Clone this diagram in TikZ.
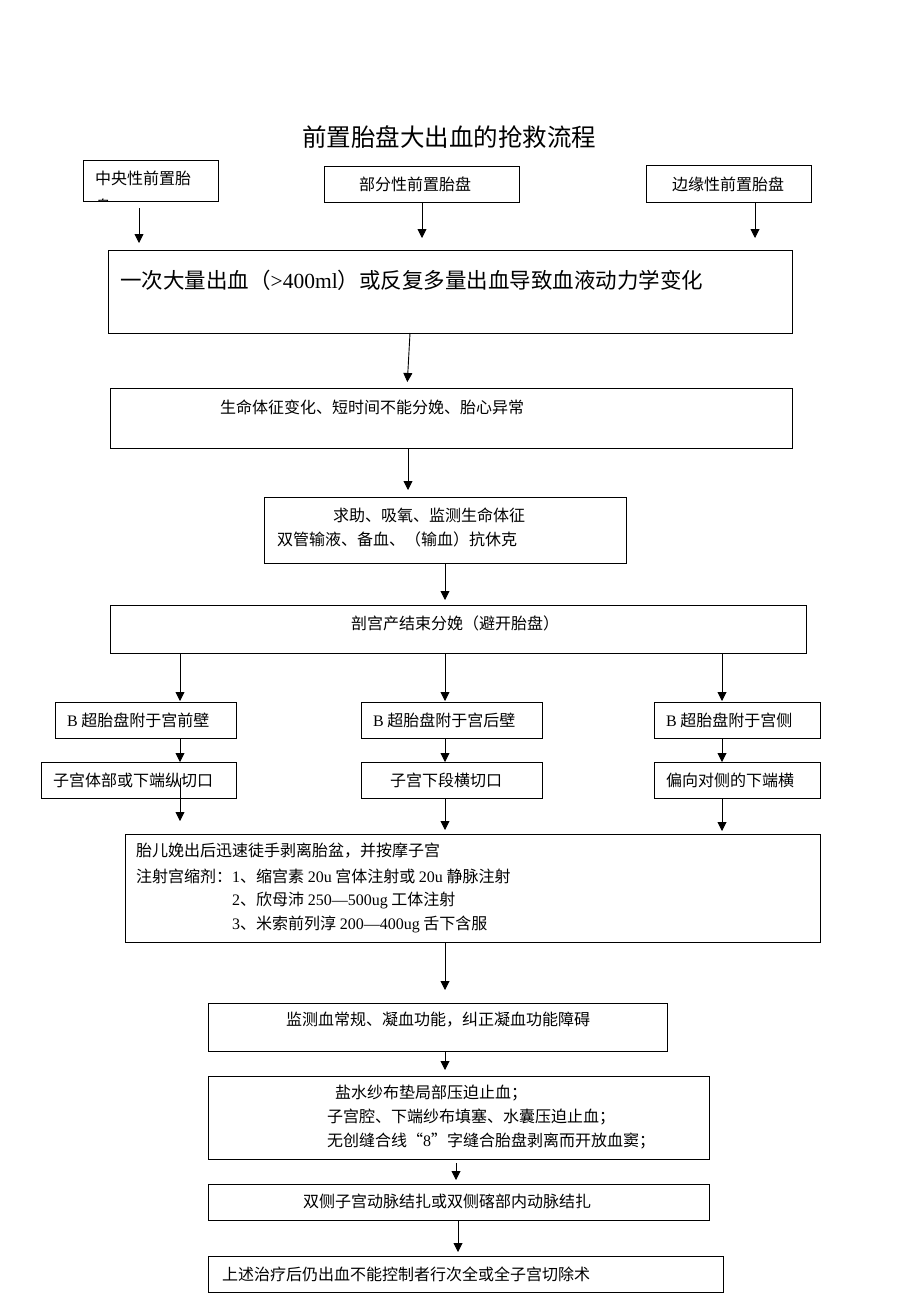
\documentclass[tikz,border=0pt]{standalone}
\usepackage{fontspec}
\setmainfont{Liberation Serif}
\newfontfamily\cjk{Noto Sans CJK SC}
\usetikzlibrary{arrows.meta}
\newcommand\lat[1]{{\rmfamily #1}}
\newcommand\bx[5]{\node[box, minimum width={(#4-#2)*1pt}, minimum height={(#5-#3)*1pt}] (#1) at ({(#2+#4)/2},{(#3+#5)/2}) {};}
\tikzset{
  box/.style={draw, line width=0.9pt, inner sep=0pt, outer sep=0pt},
  txt/.style={font=\cjk\fontsize{16}{20}\selectfont, inner sep=0pt, anchor=west},
  arr/.style={-{Triangle[length=9pt,width=9pt]}, line width=0.9pt},
}
\begin{document}
\begin{tikzpicture}[x=1pt,y=-1pt]
\useasboundingbox[fill=white] (0,0) rectangle (920,1302);

% title
\node[font=\cjk\fontsize{24.5}{28}\selectfont, inner sep=0pt] (title) at (449,137) {前置胎盘大出血的抢救流程};

% boxes
\bx{b1}{83}{160}{218}{201}
\bx{b2}{324}{166}{519}{202}
\bx{b3}{646}{165}{811}{202}
\bx{b4}{108}{250}{792}{333}
\bx{b5}{110}{388}{792}{448}
\bx{b6}{264}{497}{626}{563}
\bx{b7}{110}{605}{806}{653}
\bx{b8a}{55}{702}{236}{738}
\bx{b8b}{361}{702}{542}{738}
\bx{b8c}{654}{702}{820}{738}
\bx{b9a}{41}{762}{236}{798}
\bx{b9b}{361}{762}{542}{798}
\bx{b9c}{654}{762}{820}{798}
\bx{b10}{125}{834}{820}{942}
\bx{b11}{208}{1003}{667}{1051}
\bx{b12}{208}{1076}{709}{1159}
\bx{b13}{208}{1184}{709}{1220}
\bx{b14}{208}{1256}{723}{1292}

% texts
\node[txt] (t1) at (95,178) {中央性前置胎};
\begin{scope}
  \clip (83,160) rectangle (218,201);
  \node[txt] (t1b) at (95,206) {盘};
\end{scope}
\node[txt] (t2) at (359,184) {部分性前置胎盘};
\node[txt] (t3) at (672,184) {边缘性前置胎盘};
\node[txt, font=\cjk\fontsize{21.5}{26}\selectfont] (t4) at (120,280) {一次大量出血（\lat{>400ml}）或反复多量出血导致血液动力学变化};
\node[txt] (t5) at (220,407) {生命体征变化、短时间不能分娩、胎心异常};
\node[txt] (t6a) at (333,515) {求助、吸氧、监测生命体征};
\node[txt] (t6b) at (277,539) {双管输液、备血、（输血）抗休克};
\node[txt] (t7) at (351,623) {剖宫产结束分娩（避开胎盘）};
\node[txt] (t8a) at (67,720) {\lat{B} 超胎盘附于宫前壁};
\node[txt] (t8b) at (373,720) {\lat{B} 超胎盘附于宫后壁};
\node[txt] (t8c) at (666,720) {\lat{B} 超胎盘附于宫侧};
\node[txt] (t9a) at (53,780) {子宫体部或下端纵切口};
\node[txt] (t9b) at (390,780) {子宫下段横切口};
\node[txt] (t9c) at (666,780) {偏向对侧的下端横};
\node[txt] (t10a) at (136,851) {胎儿娩出后迅速徒手剥离胎盆，并按摩子宫};
\node[txt] (t10b) at (136,876) {注射宫缩剂：\lat{1}、缩宫素 \lat{20u} 宫体注射或 \lat{20u} 静脉注射};
\node[txt] (t10c) at (232,900) {\lat{2}、欣母沛 \lat{250—500ug} 工体注射};
\node[txt] (t10d) at (232,924) {\lat{3}、米索前列淳 \lat{200—400ug} 舌下含服};
\node[txt] (t11) at (286,1020) {监测血常规、凝血功能，纠正凝血功能障碍};
\node[txt] (t12a) at (335,1093) {盐水纱布垫局部压迫止血；};
\node[txt] (t12b) at (327,1117) {子宫腔、下端纱布填塞、水囊压迫止血；};
\node[txt] (t12c) at (327,1141) {无创缝合线“\lat{8}”字缝合胎盘剥离而开放血窦；};
\node[txt] (t13) at (303,1201) {双侧子宫动脉结扎或双侧碦部内动脉结扎};
\node[txt] (t14) at (222,1274) {上述治疗后仍出血不能控制者行次全或全子宫切除术};

% column coordinates
\coordinate (k139) at (139,0);
\coordinate (k422) at (422,0);
\coordinate (k755) at (755,0);
\coordinate (k410) at (410,0);
\coordinate (k407) at (407,0);
\coordinate (k408) at (408,0);
\coordinate (k445) at (445,0);
\coordinate (k180) at (180,0);
\coordinate (k722) at (722,0);
\coordinate (k456) at (456,0);
\coordinate (k458) at (458,0);

% connectors
\draw[arr, shorten <=7pt, shorten >=7pt] (b1.south -| k139) -- (b4.north -| k139);
\draw[arr, shorten >=12pt] (b2.south -| k422) -- (b4.north -| k422);
\draw[arr, shorten >=12pt] (b3.south -| k755) -- (b4.north -| k755);
\draw[arr, shorten >=6pt] (b4.south -| k410) -- (b5.north -| k407);
\draw[arr, shorten >=7pt] (b5.south -| k408) -- (b6.north -| k408);
\draw[arr, shorten >=5pt] (b6.south -| k445) -- (b7.north -| k445);
\draw[arr, shorten >=1pt] (b7.south -| k180) -- (b8a.north -| k180);
\draw[arr, shorten >=1pt] (b7.south -| k445) -- (b8b.north -| k445);
\draw[arr, shorten >=1pt] (b7.south -| k722) -- (b8c.north -| k722);
\draw[arr] (b8a.south -| k180) -- (b9a.north -| k180);
\draw[arr] (b8b.south -| k445) -- (b9b.north -| k445);
\draw[arr] (b8c.south -| k722) -- (b9c.north -| k722);
\draw[arr, shorten <=-20pt, shorten >=13pt] (b9a.south -| k180) -- (b10.north -| k180);
\draw[arr, shorten >=4pt] (b9b.south -| k445) -- (b10.north -| k445);
\draw[arr, shorten >=3pt] (b9c.south -| k722) -- (b10.north -| k722);
\draw[arr, shorten >=13pt] (b10.south -| k445) -- (b11.north -| k445);
\draw[arr, shorten >=6pt] (b11.south -| k445) -- (b12.north -| k445);
\draw[arr, shorten <=4pt, shorten >=4pt] (b12.south -| k456) -- (b13.north -| k456);
\draw[arr, shorten >=4pt] (b13.south -| k458) -- (b14.north -| k458);
\end{tikzpicture}
\end{document}
